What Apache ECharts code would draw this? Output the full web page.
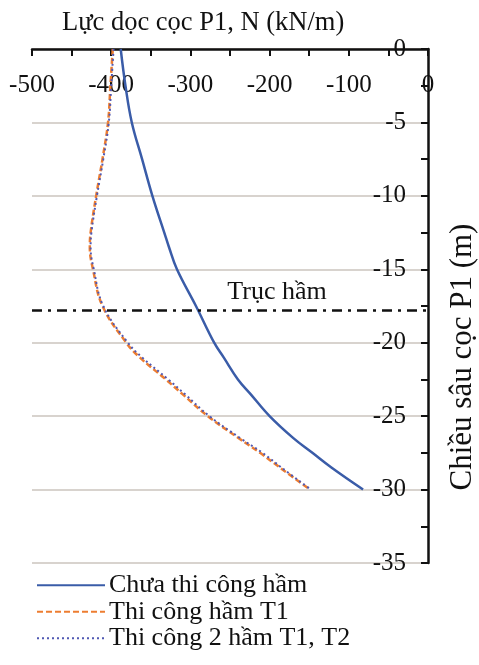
<!DOCTYPE html>
<html>
<head>
<meta charset="utf-8">
<script src="https://cdn.jsdelivr.net/npm/echarts@6/dist/echarts.min.js"></script>
<style>
  html, body { margin: 0; padding: 0; background: #fff; }
  #chart { width: 479px; height: 665px; }
</style>
</head>
<body>
<div id="chart"></div>
<script>
  // do sau coc P1 (m), am xuong duoi
  const depth = [0, -2.5, -5, -7.5, -10, -12.5, -13.5, -15, -17.5, -20, -21, -22.5, -23.5, -25, -26.5, -27.5, -28.5, -30]
  // luc doc (kN/m)
  const chuaThiCong = [-388, -382, -374, -361, -348, -333, -327, -317, -293, -270, -258, -240, -224, -200, -170, -146, -122, -82]
  const hamT1 = [-398, -401, -404, -411, -419, -426, -427, -423, -411, -381, -364, -331, -310, -278, -239, -212, -187, -149]
  const ham2T1T2 = [-397, -400, -403, -410, -418, -425, -426, -422, -410, -379, -361, -328, -307, -276, -237, -209, -185, -148]
  const trucHam = -17.8
  const seriesNames = ['Chưa thi công hầm', 'Thi công hầm T1', 'Thi công 2 hầm T1, T2']

  const FONT = 'Liberation Serif'
  const pairs = (vals) => vals.map((v, i) => [v, depth[i]])

  const myChart = echarts.init(document.getElementById('chart'))
  const option = {
    animation: false,
    title: {
      text: 'Lực dọc cọc P1, N (kN/m)',
      left: 57,
      top: 5,
      textStyle: { fontFamily: FONT, fontSize: 26.5, fontWeight: 'normal', color: '#111' }
    },
    grid: { left: 32, right: 51, top: 49, bottom: 102 },
    legend: {
      orient: 'vertical',
      left: 31,
      top: 567,
      itemWidth: 68,
      itemHeight: 14,
      itemGap: 0,
      itemStyle: { opacity: 0 },
      textStyle: { fontFamily: FONT, fontSize: 26, lineHeight: 26.5, color: '#111', padding: [0, 0, 0, -1] },
      data: seriesNames
    },
    xAxis: {
      type: 'value',
      position: 'top',
      min: -500,
      max: 0,
      interval: 100,
      axisLine: { lineStyle: { color: '#111', width: 2.5 } },
      axisTick: { inside: true, length: 7, lineStyle: { color: '#111', width: 2 } },
      minorTick: { show: true, splitNumber: 2, length: 7, lineStyle: { color: '#111', width: 2 } },
      splitLine: { show: false },
      axisLabel: {
        inside: true,
        margin: 24,
        fontFamily: FONT,
        fontSize: 25,
        color: '#111'
      }
    },
    yAxis: {
      type: 'value',
      position: 'right',
      min: -35,
      max: 0,
      interval: 5,
      axisLine: { lineStyle: { color: '#111', width: 2.5 } },
      axisTick: { inside: true, length: 7, lineStyle: { color: '#111', width: 2 } },
      minorTick: { show: true, splitNumber: 2, length: 7, lineStyle: { color: '#111', width: 2 } },
      splitLine: { show: true, lineStyle: { color: '#d8d3ce', width: 2 } },
      axisLabel: {
        inside: true,
        margin: 22,
        fontFamily: FONT,
        fontSize: 25,
        color: '#111'
      }
    },
    graphic: [{
      type: 'text',
      x: 463,
      y: 357,
      rotation: Math.PI / 2,
      style: {
        text: 'Chiều sâu cọc P1 (m)',
        fontFamily: FONT,
        fontSize: 31,
        fill: '#111',
        align: 'center',
        verticalAlign: 'middle'
      }
    }],
    series: [{
      name: seriesNames[0],
      type: 'line',
      data: pairs(chuaThiCong),
      symbol: 'none',
      smooth: 0.4,
      color: '#3a5ca8',
      lineStyle: { color: '#3a5ca8', width: 2.5 },
      markLine: {
        silent: true,
        symbol: 'none',
        data: [{ yAxis: trucHam }],
        lineStyle: { color: '#111', width: 2.5, type: [10, 6, 3, 6] },
        label: {
          show: true,
          formatter: 'Trục hầm',
          position: 'insideMiddleTop',
          offset: [47, 0],
          fontFamily: FONT,
          fontSize: 26,
          color: '#111'
        }
      }
    }, {
      name: seriesNames[1],
      type: 'line',
      data: pairs(hamT1),
      symbol: 'none',
      smooth: 0.4,
      color: '#ed7d31',
      lineStyle: { color: '#ed7d31', width: 2.5, type: [6, 3] }
    }, {
      name: seriesNames[2],
      type: 'line',
      data: pairs(ham2T1T2),
      symbol: 'none',
      smooth: 0.4,
      color: '#4f58b3',
      lineStyle: { color: '#4f58b3', width: 2, type: [2, 3] }
    }]
  }
  myChart.setOption(option)
</script>
</body>
</html>
